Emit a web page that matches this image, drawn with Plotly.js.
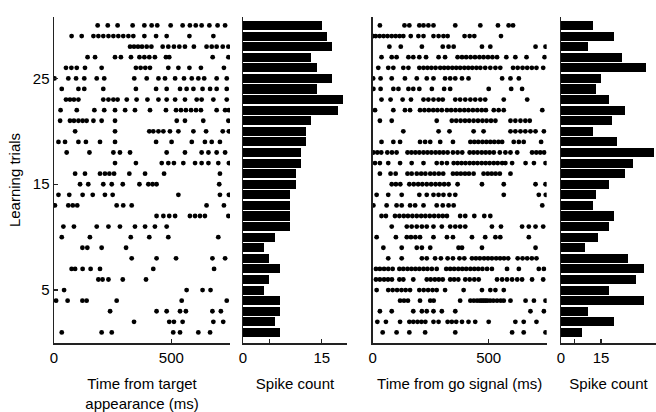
<!DOCTYPE html>
<html>
<head>
<meta charset="utf-8">
<script src="https://cdn.plot.ly/plotly-3.0.1.min.js"></script>
<style>html,body{margin:0;padding:0;background:#fff}#chart{width:656px;height:412px}</style>
</head>
<body>
<div id="chart"></div>
<script>
// Trials 1..30 (index 0 = trial 1)
const trials = Array.from({length: 30}, (_, i) => i + 1);

// Spike times (ms) relative to target appearance, one list per trial
const targetTimes = [
  [33, 203, 246, 508, 537, 615, 665],
  [341, 491, 511, 548, 679, 721],
  [239, 437, 480, 537, 562, 675, 711],
  [9, 58, 121, 139, 267, 544, 736],
  [43, 565, 633, 667],
  [189, 207, 232, 293, 392],
  [75, 90, 122, 156, 196, 423, 682],
  [331, 437, 520, 675, 729],
  [121, 142, 203, 307],
  [33, 153, 327, 406, 487, 700],
  [40, 85, 182, 232, 281, 345, 388, 430, 480],
  [437, 466, 491, 516, 579, 601, 622, 643, 743],
  [4, 61, 80, 99, 267, 295, 331, 650, 724],
  [19, 65, 122, 165, 217, 250, 530, 707, 745],
  [111, 146, 210, 246, 293, 364, 402, 420, 437, 704],
  [90, 132, 196, 217, 236, 256, 321, 388, 469, 707],
  [260, 349, 459, 487, 511, 551, 601, 629, 658, 700, 745],
  [54, 151, 253, 281, 324, 480, 558, 629, 658, 693, 729],
  [19, 47, 104, 136, 196, 260, 435, 501, 587, 643, 672, 707],
  [90, 260, 406, 423, 445, 466, 494, 530, 594, 648, 719, 745],
  [26, 68, 85, 104, 122, 139, 168, 203, 260, 523, 558, 636, 743],
  [28, 97, 172, 214, 260, 303, 345, 409, 477, 520, 541, 562, 584, 605, 626, 693, 729, 745],
  [51, 68, 85, 104, 210, 232, 253, 271, 310, 352, 398, 445, 480, 516, 558, 608, 629, 679, 736],
  [33, 104, 129, 210, 349, 435, 480, 537, 565, 594, 633, 665, 693, 736],
  [2, 61, 94, 129, 182, 214, 342, 395, 445, 473, 516, 554, 587, 615, 640, 693, 736],
  [51, 74, 97, 132, 203, 349, 369, 389, 409, 487, 530, 577, 626, 724],
  [143, 175, 260, 285, 328, 364, 385, 406, 430, 477, 491, 676, 743],
  [324, 341, 358, 375, 395, 415, 463, 487, 511, 534, 558, 596, 650, 672, 693, 719, 743],
  [75, 118, 168, 189, 210, 232, 253, 274, 295, 317, 338, 385, 435, 480, 577, 679],
  [186, 229, 271, 335, 385, 416, 440, 497, 548, 579, 604, 629, 662, 697, 729]
];

// Spike times (ms) relative to the go signal, one list per trial
const goTimes = [
  [43, 103, 158, 226, 356, 601, 651, 745],
  [20, 57, 118, 158, 175, 193, 210, 227, 262, 284, 323, 341, 360, 385, 413, 442, 500, 615, 651, 706],
  [31, 82, 175, 212, 233, 262, 298, 356, 680, 738],
  [118, 135, 152, 204, 248, 263, 377, 421, 436, 450, 462, 470, 478, 486, 494, 506, 520, 536, 552, 565, 594, 659, 695, 745],
  [17, 67, 86, 105, 124, 142, 161, 201, 220, 239, 258, 276, 312, 392, 471, 507, 529, 565],
  [14, 31, 49, 66, 83, 115, 132, 175, 233, 250, 268, 285, 302, 334, 351, 369, 399, 418, 438, 457, 536, 558, 579, 601, 623, 644, 687, 735],
  [14, 31, 49, 67, 86, 115, 132, 150, 167, 184, 201, 219, 236, 255, 276, 317, 334, 351, 369, 386, 403, 421, 438, 455, 473, 493, 514, 579, 630, 716, 738],
  [67, 125, 212, 233, 269, 294, 323, 346, 374, 395, 428, 445, 462, 480, 497, 514, 532, 549, 566, 584, 625, 646, 666, 686, 706],
  [46, 125, 190, 212, 248, 370, 385, 471, 702],
  [17, 100, 147, 165, 184, 204, 262, 320, 346, 428, 485, 529, 550, 673],
  [82, 147, 168, 190, 212, 233, 262, 298, 334, 356, 377, 399, 514, 553, 644, 673, 702, 735],
  [38, 57, 96, 115, 134, 152, 171, 190, 209, 227, 246, 265, 284, 302, 320, 377, 399, 438, 481, 507],
  [3, 60, 103, 125, 161, 183, 219, 276, 302, 327, 349, 731],
  [17, 67, 125, 201, 233, 262, 284, 305, 331, 356, 565, 716, 746],
  [82, 100, 119, 158, 177, 196, 214, 233, 252, 271, 289, 308, 327, 366, 471, 565, 702, 745],
  [31, 77, 99, 150, 168, 190, 209, 227, 248, 266, 285, 304, 346, 363, 380, 398, 415, 435, 478, 496, 513, 530, 548, 594],
  [10, 31, 67, 118, 168, 219, 276, 298, 320, 349, 366, 383, 400, 418, 435, 452, 470, 487, 504, 522, 539, 558, 572, 601, 659, 695, 745],
  [3, 20, 37, 63, 83, 103, 150, 167, 184, 201, 219, 236, 253, 271, 288, 305, 323, 346, 366, 386, 418, 435, 452, 470, 487, 504, 522, 548, 572, 594, 623, 687, 705, 722, 739],
  [38, 89, 118, 204, 226, 248, 291, 346, 421, 438, 455, 473, 490, 507, 524, 542, 558, 608, 630, 651, 726],
  [132, 284, 331, 435, 478, 594, 615, 637, 658, 680, 702, 738],
  [31, 82, 276, 341, 360, 379, 398, 416, 435, 454, 473, 491, 510, 529, 594, 615, 637, 658, 677],
  [10, 89, 139, 161, 204, 223, 242, 261, 279, 298, 320, 338, 357, 376, 395, 413, 432, 451, 470, 488, 522, 543, 565, 731],
  [38, 77, 129, 165, 219, 240, 262, 284, 302, 356, 377, 399, 421, 442, 464, 485, 565, 666],
  [3, 34, 89, 111, 154, 175, 201, 255, 308, 334, 500, 597, 644],
  [2, 34, 82, 139, 190, 233, 262, 312, 334, 356, 385, 413, 558, 594, 630],
  [24, 67, 89, 132, 154, 201, 219, 236, 253, 271, 291, 308, 325, 343, 360, 377, 395, 412, 429, 447, 464, 485, 507, 529, 550, 605, 625, 646, 666, 686, 706, 735],
  [38, 82, 103, 154, 175, 201, 230, 284, 312, 366, 385, 403, 422, 441, 460, 478, 497, 516, 536, 576, 615, 663, 741],
  [72, 121, 212, 302, 327, 349, 471, 507, 702, 745],
  [2, 13, 30, 47, 64, 82, 99, 116, 132, 164, 197, 219, 262, 284, 305, 323, 396, 418, 438, 553],
  [31, 137, 158, 201, 219, 240, 262, 356, 464, 540, 586, 605]
];

// Spike counts per trial (trial 1..30)
const targetCounts = [7, 6, 7, 7, 4, 5, 7, 5, 4, 6, 9, 9, 9, 9, 10, 10, 11, 11, 12, 12, 13, 18, 19, 14, 17, 14, 13, 17, 16, 15];
const goCounts = [8, 20, 10, 31, 18, 28, 31, 25, 9, 14, 18, 20, 12, 13, 18, 24, 27, 35, 21, 12, 19, 24, 18, 13, 15, 32, 23, 10, 20, 12];

// Tick labels
const yTickVals = [5, 15, 25];
const timeTickVals = [0, 500];
const countTickVals = [0, 5, 15];
const countTickText = ['0', '', '15'];

function flatten(lists) {
  const xs = [], ys = [];
  lists.forEach((row, i) => row.forEach(t => { xs.push(t); ys.push(trials[i]); }));
  return {xs, ys};
}
const r1 = flatten(targetTimes);
const r2 = flatten(goTimes);

const FONT = 'Liberation Sans, Arial, sans-serif';
const dot = {color: '#000', size: 4.8};

const data = [
  {type: 'scatter', mode: 'markers', x: r1.xs, y: r1.ys, marker: dot, xaxis: 'x', yaxis: 'y', hoverinfo: 'skip'},
  {type: 'bar', orientation: 'h', x: targetCounts, y: trials, width: 0.86,
   marker: {color: '#000', line: {width: 0}}, xaxis: 'x2', yaxis: 'y2'},
  {type: 'scatter', mode: 'markers', x: r2.xs, y: r2.ys, marker: dot, xaxis: 'x3', yaxis: 'y3', hoverinfo: 'skip'},
  {type: 'bar', orientation: 'h', x: goCounts, y: trials, width: 0.86,
   marker: {color: '#000', line: {width: 0}}, xaxis: 'x4', yaxis: 'y4'}
];

const axLine = {showline: true, linecolor: '#222', linewidth: 1.5, zeroline: false, showgrid: false,
  ticks: 'inside', ticklen: 4, tickwidth: 1.2, tickcolor: '#222',
  tickfont: {family: FONT, size: 15, color: '#000'}, fixedrange: true};
const yRange = [0, 30.8];
const titleFont = {family: FONT, size: 15, color: '#000'};

const layout = {
  width: 656, height: 412,
  margin: {l: 54, r: 0, t: 17, b: 69},
  paper_bgcolor: '#fff', plot_bgcolor: '#fff',
  showlegend: false, bargap: 0,
  font: {family: FONT, color: '#000'},
  xaxis: Object.assign({}, axLine, {domain: [0, 0.2924], range: [0, 750], tickvals: timeTickVals, anchor: 'y',
    title: {text: 'Time from target<br>appearance (ms)', font: titleFont, standoff: 14}}),
  xaxis2: Object.assign({}, axLine, {domain: [0.314, 0.4867], range: [0, 19.8], tickvals: countTickVals, ticktext: countTickText, anchor: 'y2',
    title: {text: 'Spike count', font: titleFont, standoff: 14}}),
  xaxis3: Object.assign({}, axLine, {domain: [0.5294, 0.8184], range: [0, 750], tickvals: timeTickVals, anchor: 'y3',
    title: {text: 'Time from go signal (ms)', font: titleFont, standoff: 14}}),
  xaxis4: Object.assign({}, axLine, {domain: [0.8422, 1], range: [0, 35.6], tickvals: countTickVals, ticktext: countTickText, anchor: 'y4',
    title: {text: 'Spike count', font: titleFont, standoff: 14}}),
  yaxis: Object.assign({}, axLine, {domain: [0, 1], range: yRange, tickvals: yTickVals, anchor: 'x',
    title: {text: 'Learning trials', font: titleFont, standoff: 8}}),
  yaxis2: Object.assign({}, axLine, {domain: [0, 1], range: yRange, ticks: '', showticklabels: false, anchor: 'x2'}),
  yaxis3: Object.assign({}, axLine, {domain: [0, 1], range: yRange, ticks: '', showticklabels: false, anchor: 'x3'}),
  yaxis4: Object.assign({}, axLine, {domain: [0, 1], range: yRange, ticks: '', showticklabels: false, anchor: 'x4'})
};

Plotly.newPlot('chart', data, layout, {displayModeBar: false, staticPlot: true});
</script>
</body>
</html>
